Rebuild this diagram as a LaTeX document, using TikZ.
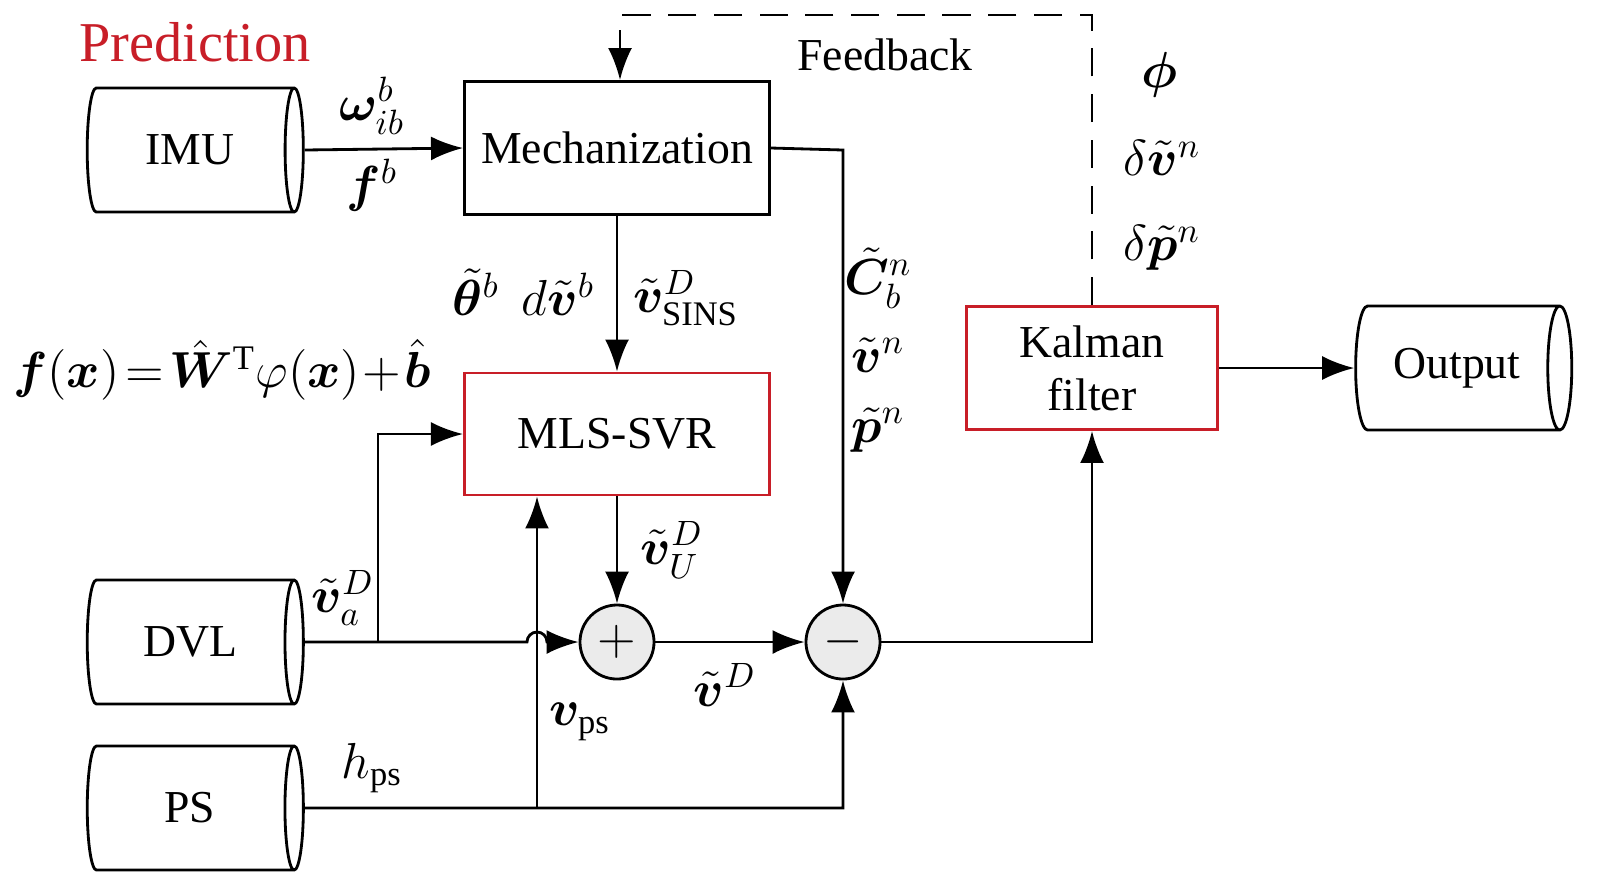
\documentclass[tikz,border=0pt]{standalone}
\usepackage{amsmath}
\usepackage{bm}
\usepackage{fontspec}
\setmainfont{Liberation Serif}
\usetikzlibrary{arrows.meta, positioning, shapes.geometric}

\definecolor{kfred}{RGB}{200,30,40}

\begin{document}
\begin{tikzpicture}[
    x=0.01cm, y=-0.01cm,
    font=\fontsize{13}{15}\selectfont,
    block/.style = {draw, thick, minimum height=1.33cm, minimum width=3.05cm, align=center},
    redblock/.style = {block, draw=kfred},
    store/.style = {cylinder, draw, thick, minimum width=1.24cm, minimum height=2.16cm, shape aspect=0.6, inner sep=0pt},
    sum/.style = {circle, draw, thick, fill=black!8, minimum size=0.74cm, inner sep=0pt},
    arrow/.style = {thick, -{Latex[width=2.4mm,length=3.2mm]}},
    lab/.style = {font=\fontsize{14}{16}\selectfont}
  ]
  \useasboundingbox (0,0) rectangle (1600,890);

  % Title
  \node[text=kfred, font=\fontsize{16}{18}\selectfont] (title) at (195,42) {Prediction};

  % Sensors and output
  \node[store] (imu) at (190,150) {IMU};
  \node[store] (dvl) at (190,642) {DVL};
  \node[store] (ps) at (190,808) {PS};
  \node[store] (out) at (1457,368) {Output};

  % Blocks
  \node[block] (mech) at (617,148) {Mechanization};
  \node[redblock, minimum height=1.22cm] (svr) at (617,434) {MLS-SVR};
  \node[redblock, minimum width=2.51cm, minimum height=1.23cm] (kf) at (1092,368) {Kalman\\filter};

  % Sum junctions
  \node[sum] (plus) at (617,642) {\Large$+$};
  \node[sum] (minus) at (843,642) {\Large$-$};

  % Helper points
  \coordinate (mechout) at (843,150);
  \coordinate (dvlbr) at (378,642);
  \coordinate (psbr) at (537,808);
  \coordinate (pscorner) at (843,808);
  \coordinate (kfin) at (1092,642);
  \coordinate (fbtop) at (1092,15);
  \coordinate (fbleft) at (620,15);

  % Connectors
  \draw[arrow] (imu.east) -- (mech.west);
  \draw[arrow] (mech.east) -- (mechout) -- (minus.north);
  \draw[arrow] (mech.south) -- (svr.north);
  \draw[arrow] (svr.south) -- (plus.north);
  \draw[arrow] (dvl.east) -- (527,642) arc (180:0:0.1cm) -- (plus.west);
  \draw[arrow] (dvlbr) |- (svr.west);
  \draw[arrow] (plus.east) -- (minus.west);
  \draw[arrow] (ps.east) -- (pscorner) -- (minus.south);
  \draw[arrow] (psbr) -- (psbr |- svr.south);
  \draw[arrow] (minus.east) -- (kfin) -- (kf.south);
  \draw[arrow] (kf.east) -- (out.west);
  \draw[arrow, dashed, dash pattern=on 8pt off 5pt] (kf.north) -- (fbtop) -- (fbleft) -- (fbleft |- mech.north);

  % Labels
  \node[lab] (omega) at (372,106) {$\bm{\omega}_{ib}^{b}$};
  \node[lab] (fb) at (372,185) {$\bm{f}^{b}$};
  \node[lab] (theta) at (476,292) {$\tilde{\bm{\theta}}^{b}$};
  \node[lab] (dv) at (558,294) {$d\tilde{\bm{v}}^{b}$};
  \node[lab] (vsins) at (686,298) {$\tilde{\bm{v}}_{\text{SINS}}^{D}$};
  \node[lab] (cbn) at (878,278) {$\tilde{\bm{C}}_{b}^{n}$};
  \node[lab] (vn) at (878,355) {$\tilde{\bm{v}}^{n}$};
  \node[lab] (pn) at (878,430) {$\tilde{\bm{p}}^{n}$};
  \node[lab] (vu) at (672,550) {$\tilde{\bm{v}}_{U}^{D}$};
  \node[lab] (va) at (343,598) {$\tilde{\bm{v}}_{a}^{D}$};
  \node[lab] (vd) at (725,685) {$\tilde{\bm{v}}^{D}$};
  \node[lab] (vps) at (580,722) {$\bm{v}_{\text{ps}}$};
  \node[lab] (hps) at (372,768) {$h_{\text{ps}}$};
  \node (fbk) at (885,55) {Feedback};
  \node[lab] (phi) at (1160,75) {$\bm{\phi}$};
  \node[lab] (dvn) at (1162,158) {$\delta\tilde{\bm{v}}^{n}$};
  \node[lab] (dpn) at (1162,248) {$\delta\tilde{\bm{p}}^{n}$};
  \node[lab] (model) at (222,370) {$\bm{f}(\bm{x})\!=\!\hat{\bm{W}}^{\mathrm{T}}\varphi(\bm{x})\!+\!\hat{\bm{b}}$};
\end{tikzpicture}
\end{document}
